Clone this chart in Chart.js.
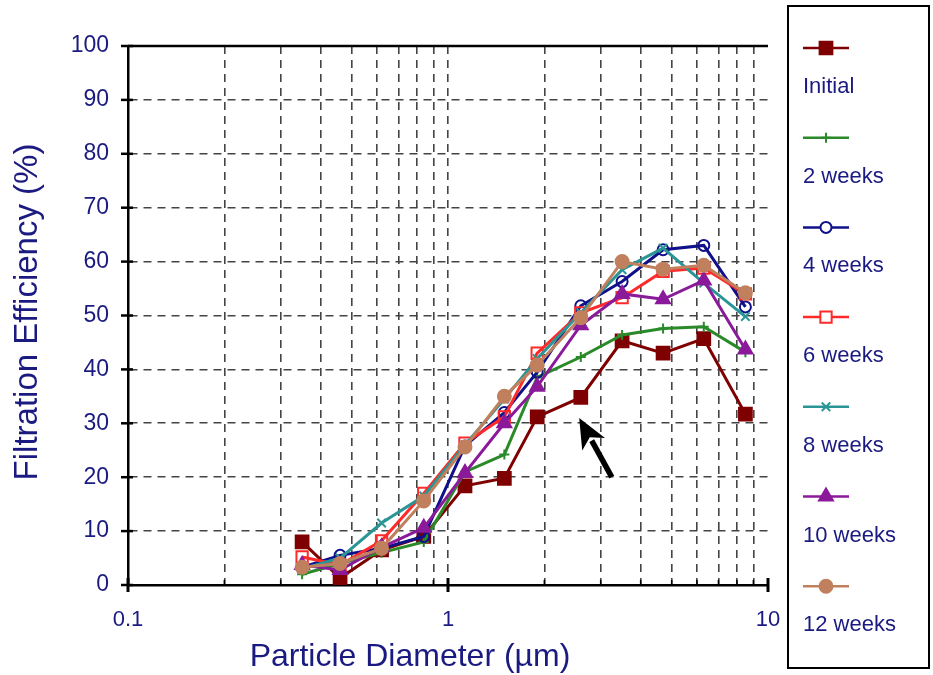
<!DOCTYPE html>
<html>
<head>
<meta charset="utf-8">
<script src="https://cdn.jsdelivr.net/npm/chart.js@4/dist/chart.umd.min.js"></script>
<style>
  html, body { margin: 0; padding: 0; background: #fff; }
  #wrap { width: 933px; height: 675px; position: relative; }
</style>
</head>
<body>
<div id="wrap"><canvas id="effChart" width="933" height="675"></canvas></div>
<script>
// particle size channels (um)
const sizes = [0.35, 0.46, 0.62, 0.84, 1.13, 1.5, 1.9, 2.6, 3.5, 4.7, 6.3, 8.5];

// filtration efficiency (%) per week
const initial = [8, 1.3, 6.5, 9, 18.4, 19.8, 31.2, 34.8, 45.3, 43, 45.7, 31.7];
const week2 = [2, 4, 6, 8, 21, 24.2, 38.5, 42.3, 46.4, 47.6, 47.9, 43.2];
const week4 = [3.3, 5.5, 6.8, 9, 25.8, 32, 39.5, 51.8, 56.3, 62.2, 63, 51.6];
const week6 = [5.2, 3.7, 8.2, 17, 26.3, 31.2, 43, 50.5, 53.3, 58.2, 58.8, 54];
const week8 = [3, 5, 11.5, 16.5, 26, 34.5, 42, 50.5, 58.5, 62.5, 56, 49.8];
const week10 = [3.7, 2.8, 7, 10.6, 20.8, 30, 36.8, 48.2, 54, 53, 56.5, 43.7];
const week12 = [3.3, 4, 6.8, 15.6, 25.6, 35, 40.8, 49.6, 60, 58.6, 59.3, 54.2];

const seriesNames = ['Initial', '2 weeks', '4 weeks', '6 weeks', '8 weeks', '10 weeks', '12 weeks'];

// x grid / tick positions on the log axis
const xTicks = [0.1, 0.2, 0.3, 0.4, 0.5, 0.6, 0.7, 0.8, 0.9, 1, 2, 3, 4, 5, 6, 7, 8, 9, 10];
const xLabels = [0.1, 1, 10];

// arrow annotation (tail -> head), in data units
const arrowFrom = [3.25, 20];
const arrowTo = [2.57, 31];

const FONT = 'Liberation Sans';
const NAVY = '#1a1a80';

const styles = [
  { color: '#7f0000', point: 'rect', r: 9, fill: true },
  { color: '#2a8a2a', point: 'cross', r: 5, fill: true },
  { color: '#10108a', point: 'circle', r: 5.5, fill: false },
  { color: '#ff2a2a', point: 'rect', r: 8, fill: false },
  { color: '#2b9595', point: 'crossRot', r: 6, fill: true },
  { color: '#8b1a9b', point: 'triangle', r: 8, fill: true },
  { color: '#c0805e', point: 'circle', r: 6.5, fill: true }
];

const allSeries = [initial, week2, week4, week6, week8, week10, week12];

function toPoints(vals) {
  return sizes.map((s, i) => ({ x: s, y: vals[i] }));
}

const datasets = allSeries.map((vals, i) => ({
  label: seriesNames[i],
  data: toPoints(vals),
  borderColor: styles[i].color,
  backgroundColor: styles[i].fill ? styles[i].color : '#ffffff',
  pointBorderColor: styles[i].color,
  pointBackgroundColor: styles[i].fill ? styles[i].color : 'rgba(255,255,255,0)',
  pointStyle: styles[i].point,
  pointRadius: styles[i].r,
  pointBorderWidth: 2,
  borderWidth: 3,
  tension: 0,
  order: 6 - i
}));

// axes extras, titles, legend box, arrow
const extrasPlugin = {
  id: 'extras',
  afterDraw(chart) {
    const ctx = chart.ctx;
    const area = chart.chartArea;
    const xs = chart.scales.x, ys = chart.scales.y;
    ctx.save();

    // top frame line
    ctx.strokeStyle = '#000';
    ctx.lineWidth = 2.5;
    ctx.beginPath();
    ctx.moveTo(area.left, area.top);
    ctx.lineTo(area.right, area.top);
    ctx.stroke();

    // y tick marks crossing the axis
    for (let v = 0; v <= 100; v += 10) {
      const py = ys.getPixelForValue(v);
      ctx.beginPath();
      ctx.moveTo(area.left - 7, py);
      ctx.lineTo(area.left + 5, py);
      ctx.stroke();
    }
    // x tick marks
    xTicks.forEach(t => {
      const px = xs.getPixelForValue(t);
      const major = xLabels.includes(t);
      ctx.lineWidth = major ? 3 : 1.5;
      ctx.beginPath();
      ctx.moveTo(px, area.bottom - (major ? 7 : 5));
      ctx.lineTo(px, area.bottom + (major ? 7 : 0));
      ctx.stroke();
    });

    // arrow
    const x1 = xs.getPixelForValue(arrowFrom[0]), y1 = ys.getPixelForValue(arrowFrom[1]);
    const x2 = xs.getPixelForValue(arrowTo[0]), y2 = ys.getPixelForValue(arrowTo[1]);
    const ang = Math.atan2(y2 - y1, x2 - x1);
    const headLen = 30, headW = 13;
    const bx = x2 - headLen * Math.cos(ang), by = y2 - headLen * Math.sin(ang);
    ctx.strokeStyle = '#000';
    ctx.fillStyle = '#000';
    ctx.lineWidth = 5.5;
    ctx.beginPath();
    ctx.moveTo(x1, y1);
    ctx.lineTo(bx + 4 * Math.cos(ang), by + 4 * Math.sin(ang));
    ctx.stroke();
    ctx.beginPath();
    ctx.moveTo(x2, y2);
    ctx.lineTo(bx + headW * Math.sin(ang), by - headW * Math.cos(ang));
    ctx.lineTo(bx + 8 * Math.cos(ang), by + 8 * Math.sin(ang));
    ctx.lineTo(bx - headW * Math.sin(ang), by + headW * Math.cos(ang));
    ctx.closePath();
    ctx.fill();

    // axis titles
    ctx.fillStyle = NAVY;
    ctx.font = '32px "' + FONT + '"';
    ctx.textAlign = 'center';
    ctx.textBaseline = 'middle';
    ctx.fillText('Particle Diameter (µm)', 410, 657);
    ctx.save();
    ctx.translate(28, 312);
    ctx.rotate(-Math.PI / 2);
    ctx.font = '33px "' + FONT + '"';
    ctx.fillText('Filtration Efficiency (%)', 0, 0);
    ctx.restore();

    // legend box
    ctx.strokeStyle = '#000';
    ctx.lineWidth = 2;
    ctx.strokeRect(788, 6, 141, 662);
    ctx.font = '22px "' + FONT + '"';
    ctx.textAlign = 'left';
    seriesNames.forEach((name, i) => {
      const sy = 48 + i * 89.7;
      const st = styles[i];
      ctx.strokeStyle = st.color;
      ctx.lineWidth = 2.5;
      ctx.beginPath();
      ctx.moveTo(803, sy);
      ctx.lineTo(849, sy);
      ctx.stroke();
      ctx.lineWidth = 2;
      ctx.fillStyle = st.fill ? st.color : '#ffffff';
      ctx.strokeStyle = st.color;
      Chart.helpers.drawPoint(ctx, { pointStyle: st.point, radius: st.r, borderWidth: 2 }, 826, sy);
      ctx.fillStyle = NAVY;
      ctx.fillText(name, 803, 87 + i * 89.7);
    });

    ctx.restore();
  }
};

new Chart(document.getElementById('effChart').getContext('2d'), {
  type: 'line',
  data: { datasets: datasets },
  options: {
    responsive: false,
    animation: false,
    layout: { padding: { left: 0, right: 165, top: 46, bottom: 0 } },
    plugins: {
      legend: { display: false },
      tooltip: { enabled: false }
    },
    scales: {
      x: {
        type: 'logarithmic',
        min: 0.1,
        max: 10,
        afterBuildTicks: scale => { scale.ticks = xTicks.map(v => ({ value: v })); },
        afterFit: scale => { scale.height = 90; },
        ticks: {
          autoSkip: false,
          maxRotation: 0,
          padding: 22,
          color: NAVY,
          font: { family: FONT, size: 22 },
          callback: v => xLabels.includes(v) ? String(v) : ''
        },
        grid: {
          drawTicks: false,
          lineWidth: 1.6,
          color: c => (c.tick && (c.tick.value === 0.1 || c.tick.value === 10)) ? 'rgba(0,0,0,0)' : '#444'
        },
        border: { display: true, color: '#000', width: 2.5, dash: [8, 6] }
      },
      y: {
        min: 0,
        max: 100,
        afterFit: scale => { scale.width = 128; },
        ticks: {
          stepSize: 10,
          padding: 19,
          color: NAVY,
          font: { family: FONT, size: 23 }
        },
        grid: {
          drawTicks: false,
          lineWidth: 1.6,
          color: c => (c.tick && (c.tick.value === 0 || c.tick.value === 100)) ? 'rgba(0,0,0,0)' : '#444'
        },
        border: { display: true, color: '#000', width: 2.5, dash: [8, 6] }
      }
    }
  },
  plugins: [extrasPlugin]
});
</script>
</body>
</html>
